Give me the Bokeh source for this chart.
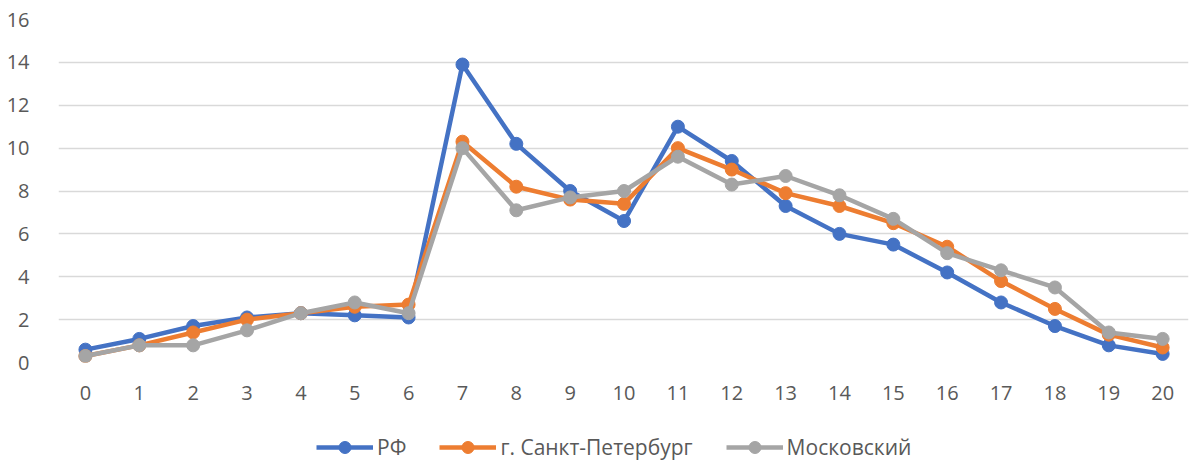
from bokeh.plotting import figure
from bokeh.models import Range1d, FixedTicker, Legend, LegendItem
from bokeh.layouts import column
from bokeh.embed import file_html
from bokeh.resources import INLINE

categories = list(range(21))
rf = [0.6, 1.1, 1.7, 2.1, 2.3, 2.2, 2.1, 13.9, 10.2, 8.0, 6.6, 11.0, 9.4, 7.3, 6.0, 5.5, 4.2, 2.8, 1.7, 0.8, 0.4]
spb = [0.3, 0.8, 1.4, 2.0, 2.3, 2.6, 2.7, 10.3, 8.2, 7.6, 7.4, 10.0, 9.0, 7.9, 7.3, 6.5, 5.4, 3.8, 2.5, 1.3, 0.7]
msk = [0.3, 0.8, 0.8, 1.5, 2.3, 2.8, 2.3, 10.0, 7.1, 7.7, 8.0, 9.6, 8.3, 8.7, 7.8, 6.7, 5.1, 4.3, 3.5, 1.4, 1.1]
series_names = ["РФ", "г. Санкт-Петербург", "Московский"]
colors = ["#4472C4", "#ED7D31", "#A5A5A5"]
y_ticks = [0, 2, 4, 6, 8, 10, 12, 14, 16]

FONT = "Open Sans"
TXT = "#595959"
LW = 4.5
MS = 13

p = figure(width=1192, height=420, output_backend="svg", toolbar_location=None,
           x_range=Range1d(-0.5, 20.48), y_range=Range1d(0, 16),
           min_border_left=58, min_border_right=4, min_border_top=19, min_border_bottom=58)
p.outline_line_color = None
p.background_fill_color = "white"

for ax in (p.xaxis[0], p.yaxis[0]):
    ax.axis_line_color = None
    ax.major_tick_line_color = None
    ax.minor_tick_line_color = None
    ax.major_label_text_font = FONT
    ax.major_label_text_font_size = "20px"
    ax.major_label_text_color = TXT

p.xaxis[0].ticker = FixedTicker(ticks=categories)
p.xaxis[0].major_label_standoff = 17
p.yaxis[0].ticker = FixedTicker(ticks=y_ticks)
p.yaxis[0].major_label_standoff = 23

p.xgrid.grid_line_color = None
p.ygrid.grid_line_color = "#D9D9D9"
p.ygrid.grid_line_width = 1.3

for vals, c in zip([rf, spb, msk], colors):
    p.line(categories, vals, line_color=c, line_width=LW)
    p.scatter(categories, vals, size=MS, fill_color=c, line_color=c)

# legend strip under the chart (its renderers are hidden, only the legend shows)
p2 = figure(width=1192, height=42, output_backend="svg", toolbar_location=None,
            x_axis_type=None, y_axis_type=None, min_border=0,
            x_range=Range1d(-0.5, 20.48), y_range=Range1d(0, 16))
p2.outline_line_color = None
p2.grid.visible = False

items = []
for name, vals, c in zip(series_names, [rf, spb, msk], colors):
    l = p2.line(categories, vals, line_color=c, line_width=LW, visible=False)
    s = p2.scatter(categories, vals, size=MS, fill_color=c, line_color=c, visible=False)
    items.append(LegendItem(label=name, renderers=[l, s]))

legend = Legend(items=items, orientation="horizontal", location=(258, 0),
                border_line_color=None, background_fill_alpha=0,
                inactive_fill_alpha=0,
                label_text_font=FONT, label_text_font_size="21px", label_text_color=TXT,
                glyph_width=57, glyph_height=30, label_standoff=4, spacing=33,
                padding=0, margin=0)
p2.add_layout(legend)

layout = column(p, p2, spacing=0)
open("out.html", "w").write(file_html(layout, INLINE))
